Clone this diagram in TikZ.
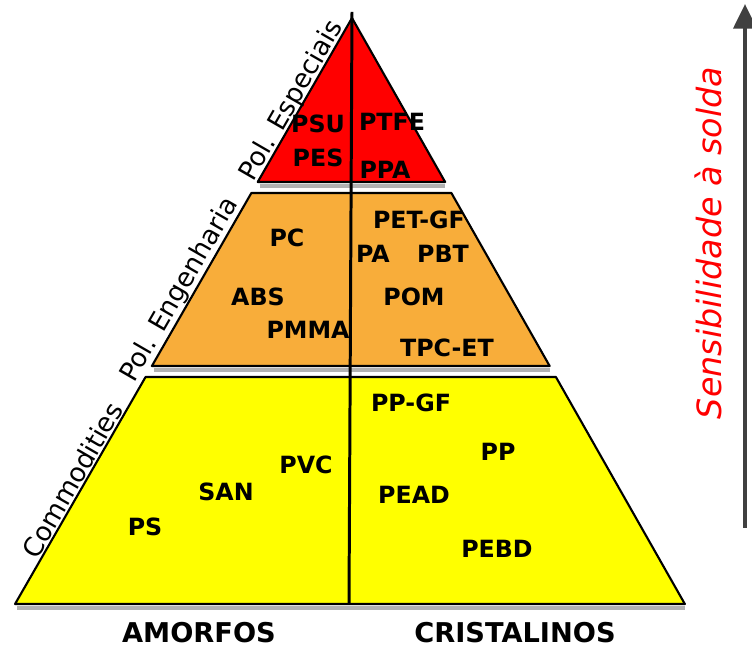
\documentclass[tikz,border=0pt]{standalone}
\usepackage{fontspec}
\setmainfont{DejaVu Sans}
\usetikzlibrary{calc,positioning,arrows.meta}

\definecolor{espred}{HTML}{FF0000}
\definecolor{engorange}{HTML}{F8AD3A}
\definecolor{comyellow}{HTML}{FFFF00}

\begin{document}
\begin{tikzpicture}[x=0.02cm, y=-0.02cm, line join=round,
    poly/.style={font=\fontsize{13.5}{15}\selectfont\bfseries, inner sep=0pt},
    side/.style={font=\fontsize{15}{17}\selectfont, rotate=60, inner sep=0pt},
    family/.style={font=\fontsize{15.5}{18}\selectfont\bfseries, inner sep=0pt}]
  \useasboundingbox (0,0) rectangle (752,651);
  \def\apexx{352}
  \def\apexy{18}
  \def\slopel{0.575}
  \def\sloper{0.568}

  \pgfmathdeclarefunction{xl}{1}{%
    \pgfmathparse{\apexx-\slopel*((#1)-\apexy)}%
  }
  \pgfmathdeclarefunction{xr}{1}{%
    \pgfmathparse{\apexx+\sloper*((#1)-\apexy)}%
  }

  \newcommand{\band}[3]{% #1=y top, #2=y bottom, #3=fill
    \draw[gray!60, line width=2.5pt] ({xl(#2)+2},#2+4) -- ({xr(#2)},#2+4);
    \filldraw[fill=#3, draw=black, line width=1.2pt]
      ({xl(#1)},#1) -- ({xr(#1)},#1) -- ({xr(#2)},#2) -- ({xl(#2)},#2) -- cycle;
  }

  \band{\apexy}{182}{espred}
  \band{193}{366}{engorange}
  \band{377}{604}{comyellow}

  % amorfos | cristalinos
  \coordinate (apextop) at (352,12);
  \coordinate (basemid) at (349,604);
  \draw[line width=1.7pt] (apextop) -- (basemid);

  % especiais
  \node[poly] (psu)  at (318,124) {PSU};
  \node[poly] (ptfe) at (392,122) {PTFE};
  \node[poly] (pes)  at (318,158) {PES};
  \node[poly] (ppa)  at (385,170) {PPA};

  % engenharia
  \node[poly] (pc)    at (287,238) {PC};
  \node[poly] (abs)   at (258,297) {ABS};
  \node[poly] (pmma)  at (308,330) {PMMA};
  \node[poly] (petgf) at (419,220) {PET-GF};
  \node[poly] (pa)    at (373,254) {PA};
  \node[poly] (pbt)   at (443,254) {PBT};
  \node[poly] (pom)   at (414,297) {POM};
  \node[poly] (tpcet) at (447,348) {TPC-ET};

  % commodities
  \node[poly] (pvc)  at (306,465) {PVC};
  \node[poly] (san)  at (226,492) {SAN};
  \node[poly] (ps)   at (145,527) {PS};
  \node[poly] (ppgf) at (411,403) {PP-GF};
  \node[poly] (pp)   at (498,452) {PP};
  \node[poly] (pead) at (414,495) {PEAD};
  \node[poly] (pebd) at (497,549) {PEBD};

  \node[side] (especiais)  at (292,101) {Pol. Especiais};
  \node[side] (engenharia) at (180,290) {Pol. Engenharia};
  \node[side] (commod)     at (72,480)  {Commodities};

  \node[family] (amorfos)     at (199,633) {AMORFOS};
  \node[family] (cristalinos) at (515,633) {CRISTALINOS};

  \coordinate (sensbot) at (745,528);
  \coordinate (senstop) at (745,4);
  \draw[black!75, line width=2.4pt, -{Triangle[length=14pt,width=13pt]}] (sensbot) -- (senstop);
  \node[rotate=90, text=red, font=\fontsize{19}{21}\selectfont\itshape, inner sep=0pt]
    (sens) at (708,243) {Sensibilidade à solda};
\end{tikzpicture}
\end{document}
